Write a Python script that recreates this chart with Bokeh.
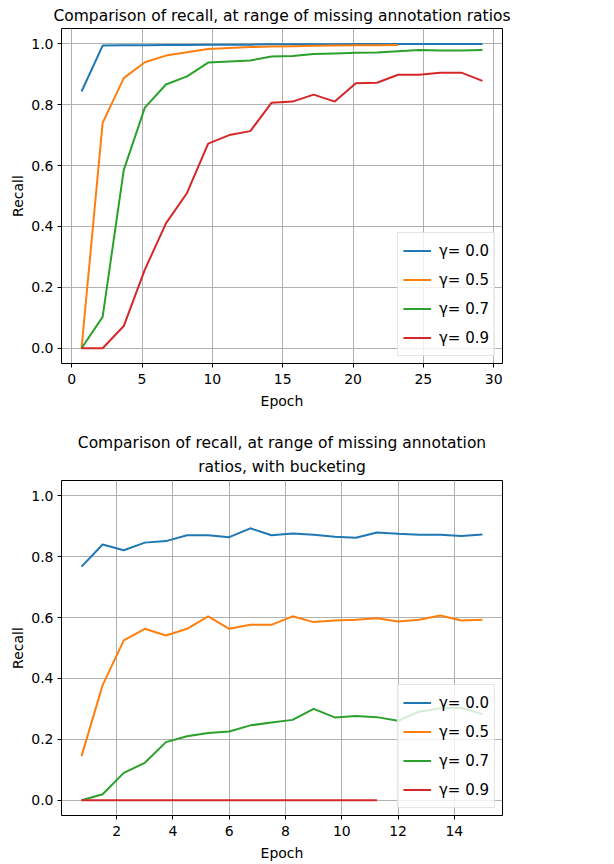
from bokeh.plotting import figure
from bokeh.layouts import column
from bokeh.models import FixedTicker, Range1d, Legend, LegendItem, NumeralTickFormatter, Title
from bokeh.embed import file_html
from bokeh.resources import INLINE

# ---------------- data ----------------
labels = ["γ= 0.0", "γ= 0.5", "γ= 0.7", "γ= 0.9"]
colors = ["#1f77b4", "#ff7f0e", "#2ca02c", "#d62728"]

# top chart: epochs
epoch_top = [0.7, 2.2, 3.7, 5.2, 6.7, 8.2, 9.7, 11.2, 12.7, 14.2,
             15.7, 17.2, 18.7, 20.2, 21.7, 23.2, 24.7, 26.2, 27.7, 29.2]
top_g00 = [0.843, 0.994, 0.995, 0.995, 0.996, 0.996, 0.997, 0.997, 0.997, 0.998,
           0.998, 0.998, 0.998, 0.999, 0.999, 0.999, 0.999, 0.999, 0.999, 0.999]
top_g05 = [0.0, 0.74, 0.887, 0.939, 0.961, 0.972, 0.983, 0.986, 0.989, 0.991,
           0.992, 0.993, 0.994, 0.995, 0.995, 0.996]
top_g07 = [0.0, 0.103, 0.585, 0.79, 0.866, 0.893, 0.938, 0.942, 0.945, 0.958,
           0.96, 0.966, 0.968, 0.97, 0.971, 0.975, 0.979, 0.978, 0.978, 0.979]
top_g09 = [0.0, 0.0, 0.073, 0.258, 0.41, 0.51, 0.672, 0.70, 0.713, 0.806,
           0.81, 0.833, 0.81, 0.87, 0.872, 0.898, 0.898, 0.905, 0.905, 0.878]

# bottom chart (with bucketing)
epoch_bot = [0.75, 1.5, 2.25, 3.0, 3.75, 4.5, 5.25, 6.0, 6.75, 7.5,
             8.25, 9.0, 9.75, 10.5, 11.25, 12.0, 12.75, 13.5, 14.25, 15.0]
bot_g00 = [0.767, 0.840, 0.821, 0.846, 0.851, 0.870, 0.870, 0.864, 0.893, 0.870,
           0.876, 0.872, 0.865, 0.862, 0.879, 0.875, 0.872, 0.872, 0.868, 0.873]
bot_g05 = [0.145, 0.378, 0.525, 0.563, 0.541, 0.563, 0.604, 0.563, 0.576, 0.576,
           0.604, 0.585, 0.590, 0.593, 0.598, 0.587, 0.593, 0.607, 0.590, 0.593]
bot_g07 = [0.0, 0.02, 0.09, 0.123, 0.191, 0.21, 0.221, 0.226, 0.246, 0.255,
           0.264, 0.30, 0.272, 0.277, 0.273, 0.261, 0.291, 0.302, 0.304, 0.283]
bot_g09 = [0.0, 0.0, 0.0, 0.0, 0.0, 0.0, 0.0, 0.0, 0.0, 0.0,
           0.0, 0.0, 0.0, 0.0, 0.0]

y_ticks = [0.0, 0.2, 0.4, 0.6, 0.8, 1.0]
x_ticks_top = [0, 5, 10, 15, 20, 25, 30]
x_ticks_bot = [2, 4, 6, 8, 10, 12, 14]

title_top = ["Comparison of recall, at range of missing annotation ratios"]
title_bot = ["Comparison of recall, at range of missing annotation",
             "ratios, with bucketing"]

FONT = "DejaVu Sans"


def padded(lo, hi, frac=0.05):
    s = hi - lo
    return Range1d(lo - frac * s, hi + frac * s)


def make_fig(title_lines, xs, series, xticks, top_border, bottom_border, title_gap):
    p = figure(output_backend="svg", toolbar_location=None,
               frame_width=441, frame_height=335,
               min_border_left=61, min_border_right=40,
               min_border_top=top_border, min_border_bottom=bottom_border,
               x_range=padded(min(xs), max(xs)),
               y_range=padded(0.0, 1.0))
    p.title = None
    # first added is nearest to the frame -> add lines bottom-up
    for i, line in enumerate(reversed(title_lines)):
        t = Title(text=line, align="center", text_font=FONT,
                  text_font_size="15.5px", text_font_style="normal",
                  text_color="#000000",
                  standoff=title_gap if i == 0 else 0)
        p.add_layout(t, "above")

    p.outline_line_color = "#000000"
    p.outline_line_width = 1
    p.outline_line_alpha = 1

    for ax in (p.xaxis, p.yaxis):
        ax.axis_line_color = None
        ax.major_tick_line_color = "#000000"
        ax.major_tick_out = 4
        ax.major_tick_in = 0
        ax.minor_tick_line_color = None
        ax.major_label_text_font = FONT
        ax.major_label_text_font_size = "14px"
        ax.major_label_text_color = "#000000"
        ax.axis_label_text_font = FONT
        ax.axis_label_text_font_size = "14px"
        ax.axis_label_text_font_style = "normal"
        ax.axis_label_text_color = "#000000"
    p.xaxis.major_label_standoff = 6
    p.xaxis.axis_label_standoff = 6
    p.yaxis.major_label_standoff = 4
    p.yaxis.axis_label_standoff = 2

    p.xaxis.axis_label = "Epoch"
    p.yaxis.axis_label = "Recall"
    p.xaxis.ticker = FixedTicker(ticks=xticks)
    p.yaxis.ticker = FixedTicker(ticks=y_ticks)
    p.yaxis.formatter = NumeralTickFormatter(format="0.0")

    p.grid.grid_line_color = "#b0b0b0"
    p.grid.grid_line_width = 1
    p.xgrid.ticker = FixedTicker(ticks=xticks)
    p.ygrid.ticker = FixedTicker(ticks=y_ticks)

    items = []
    for lab, col, ys in zip(labels, colors, series):
        r = p.line(xs[:len(ys)], ys, line_color=col, line_width=2)
        items.append(LegendItem(label=lab, renderers=[r]))

    leg = Legend(items=items, location="bottom_right")
    leg.label_text_font = FONT
    leg.label_text_font_size = "15px"
    leg.label_text_color = "#000000"
    leg.glyph_width = 28
    leg.glyph_height = 25
    leg.label_height = 25
    leg.spacing = 4
    leg.padding = 5
    leg.margin = 7
    leg.label_standoff = 8
    leg.background_fill_color = "#ffffff"
    leg.background_fill_alpha = 0.8
    leg.border_line_color = "#cccccc"
    leg.border_line_width = 1
    p.add_layout(leg, "center")
    return p


p1 = make_fig(title_top, epoch_top, [top_g00, top_g05, top_g07, top_g09],
              x_ticks_top, 28, 53, 8)
p2 = make_fig(title_bot, epoch_bot, [bot_g00, bot_g05, bot_g07, bot_g09],
              x_ticks_bot, 64, 48, 9)

layout = column(p1, p2, spacing=0)
open("out.html", "w").write(file_html(layout, INLINE))
